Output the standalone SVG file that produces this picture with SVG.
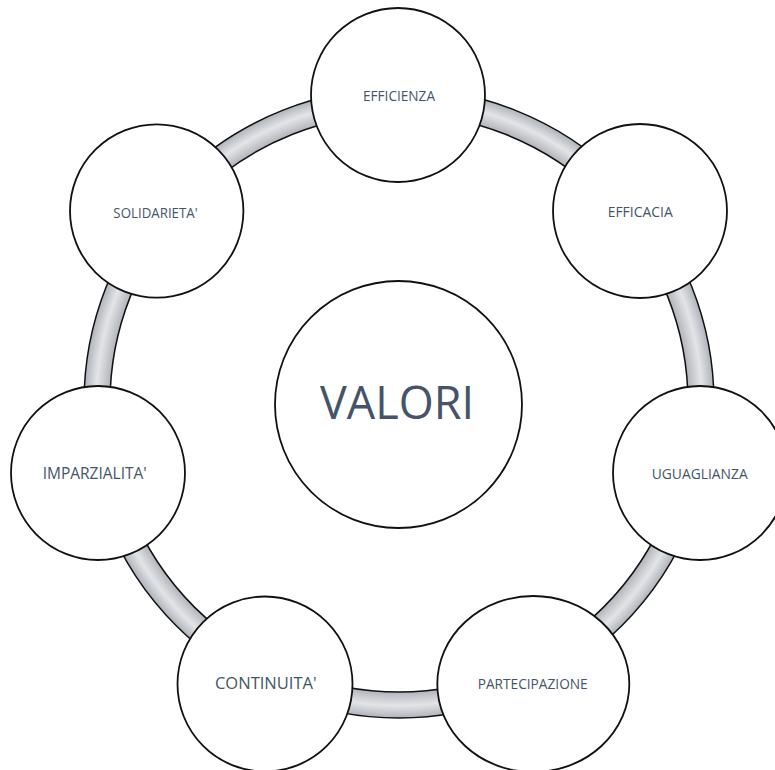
<svg xmlns="http://www.w3.org/2000/svg" width="775" height="770" viewBox="0 0 775 770">
  <defs>
    <radialGradient id="tube" gradientUnits="userSpaceOnUse" cx="399" cy="403" r="316">
      <stop offset="0.912" stop-color="#aeb1b8"/>
      <stop offset="0.94" stop-color="#cfd1d5"/>
      <stop offset="0.958" stop-color="#e2e4e7"/>
      <stop offset="0.978" stop-color="#c8cbd0"/>
      <stop offset="1" stop-color="#abaeb5"/>
    </radialGradient>
  </defs>
  <style>
    .node { fill: #ffffff; stroke: #111111; stroke-width: 1.8; }
    .lbl { font-family: "Open Sans", "Liberation Sans", sans-serif; fill: #44546a; text-anchor: middle; }
    .s { font-size: 14px; }
    .m { font-size: 16.5px; }
    .big { font-size: 46px; }
  </style>
  <rect width="775" height="770" fill="#ffffff"/>
  <g id="connectors">
    <circle cx="399" cy="403" r="302" fill="none" stroke="#111111" stroke-width="27.5"/>
    <circle cx="399" cy="403" r="302" fill="none" stroke="url(#tube)" stroke-width="24.5"/>
  </g>
  <g id="center">
    <circle class="node" cx="398.5" cy="404.5" r="123.5"/>
    <text class="lbl big" x="397" y="419" textLength="154" lengthAdjust="spacingAndGlyphs">VALORI</text>
  </g>
  <g id="efficienza">
    <circle class="node" cx="398" cy="95" r="87"/>
    <text class="lbl s" x="399" y="101" textLength="72" lengthAdjust="spacingAndGlyphs">EFFICIENZA</text>
  </g>
  <g id="efficacia">
    <circle class="node" cx="640" cy="211" r="87"/>
    <text class="lbl s" x="640.2" y="217" textLength="65" lengthAdjust="spacingAndGlyphs">EFFICACIA</text>
  </g>
  <g id="uguaglianza">
    <circle class="node" cx="700" cy="473" r="87"/>
    <text class="lbl s" x="699.7" y="479" textLength="96" lengthAdjust="spacingAndGlyphs">UGUAGLIANZA</text>
  </g>
  <g id="partecipazione">
    <ellipse class="node" cx="533.3" cy="684" rx="96" ry="88"/>
    <text class="lbl s" x="532.7" y="688.5" textLength="110" lengthAdjust="spacingAndGlyphs">PARTECIPAZIONE</text>
  </g>
  <g id="continuita">
    <circle class="node" cx="265" cy="684" r="87.5"/>
    <text class="lbl m" x="265.8" y="689" textLength="101.7" lengthAdjust="spacingAndGlyphs">CONTINUITA'</text>
  </g>
  <g id="imparzialita">
    <circle class="node" cx="98" cy="473" r="87"/>
    <text class="lbl m" x="94.7" y="479" textLength="104" lengthAdjust="spacingAndGlyphs">IMPARZIALITA'</text>
  </g>
  <g id="solidarieta">
    <circle class="node" cx="156.7" cy="211" r="86.7"/>
    <text class="lbl s" x="155.5" y="217.5" textLength="84.3" lengthAdjust="spacingAndGlyphs">SOLIDARIETA'</text>
  </g>
</svg>
